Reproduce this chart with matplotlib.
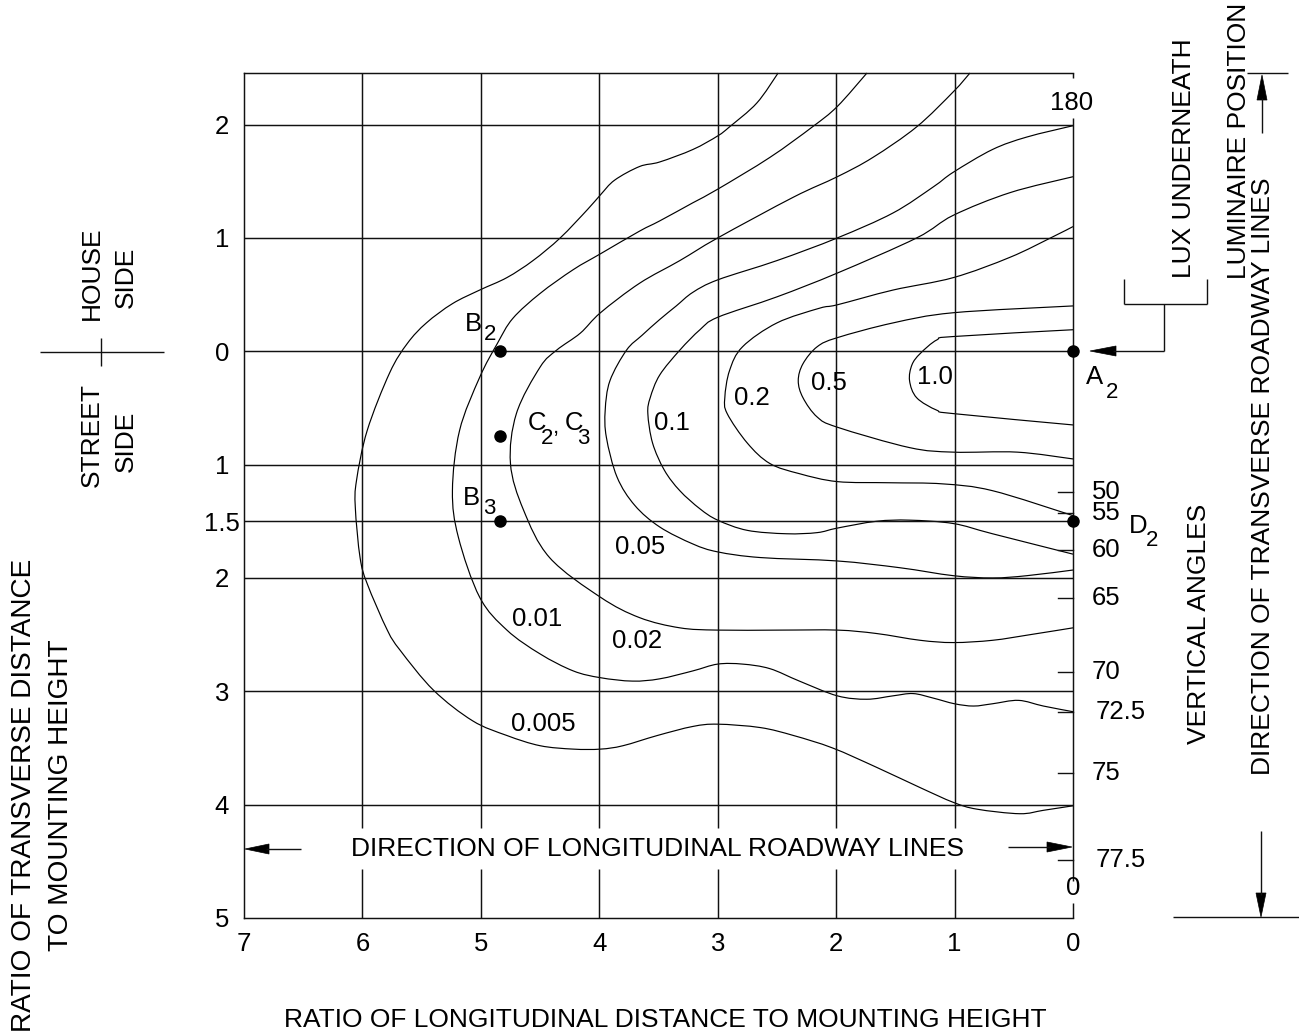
import matplotlib
matplotlib.use("Agg")
import matplotlib.pyplot as plt
from matplotlib import font_manager
from matplotlib.patches import Polygon, PathPatch
from matplotlib.path import Path

# ---------------------------------------------------------------------------
# Isolux diagram data
# x: ratio of longitudinal distance to mounting height
# y: ratio of transverse distance to mounting height (house side < 0, street side > 0)
# ---------------------------------------------------------------------------
long_ticks = [7, 6, 5, 4, 3, 2, 1, 0]
long_labels = ["7", "6", "5", "4", "3", "2", "1", "0"]
trans_ticks = [-2, -1, 0, 1, 1.5, 2, 3, 4, 5]
trans_labels = ["2", "1", "0", "1", "1.5", "2", "3", "4", "5"]
grid_long = [1, 2, 3, 4, 5, 6]
grid_trans = [-2, -1, 0, 1, 1.5, 2, 3, 4]

# vertical angle scale on the luminaire line
angle_labels = ["50", "55", "60", "65", "70", "72.5", "75", "77.5"]
angle_pos = [1.24, 1.43, 1.75, 2.18, 2.83, 3.18, 3.72, 4.49]

iso_levels = ["0.005", "0.01", "0.02", "0.05", "0.1", "0.2", "0.5", "1.0"]

lux_0005_x = [2.49, 2.67, 2.90, 3.00, 3.21, 3.49, 3.66, 3.87, 3.99, 4.10,
              4.33, 4.56, 4.78, 5.01, 5.24, 5.46, 5.62, 5.77, 5.96, 6.05,
              6.06, 6.02, 5.96, 5.79, 5.68, 5.40, 5.07, 4.78, 4.50, 4.22,
              3.99, 3.80, 3.51, 3.21, 3.00, 2.64, 2.36, 2.03, 1.66, 1.29,
              1.01, 0.81, 0.45, 0.25, 0.0]
lux_0005_y = [-2.455, -2.19, -1.98, -1.90, -1.78, -1.67, -1.63, -1.51, -1.38, -1.25,
              -1.00, -0.80, -0.65, -0.54, -0.42, -0.25, -0.07, 0.19, 0.70, 1.14,
              1.38, 1.82, 2.05, 2.46, 2.64, 2.99, 3.26, 3.39, 3.48, 3.51,
              3.51, 3.48, 3.39, 3.31, 3.29, 3.32, 3.39, 3.50, 3.67, 3.85,
              3.98, 4.04, 4.08, 4.05, 4.01]

lux_001_x = [1.74, 1.99, 2.20, 2.56, 3.00, 3.21, 3.49, 3.66, 3.99, 4.22,
             4.50, 4.73, 4.86, 5.01, 5.18, 5.24, 5.19, 5.01, 4.78, 4.50,
             4.22, 3.99, 3.72, 3.49, 3.21, 3.00, 2.79, 2.56, 2.31, 1.99,
             1.74, 1.52, 1.35, 1.18, 1.00, 0.84, 0.68, 0.46, 0.25, 0.0]
lux_001_y = [-2.455, -2.16, -1.98, -1.71, -1.43, -1.31, -1.15, -1.06, -0.86, -0.72,
             -0.51, -0.29, -0.07, 0.23, 0.70, 1.23, 1.64, 2.17, 2.46, 2.67,
             2.82, 2.88, 2.91, 2.89, 2.82, 2.76, 2.76, 2.80, 2.91, 3.04,
             3.07, 3.04, 3.02, 3.06, 3.11, 3.13, 3.11, 3.08, 3.13, 3.18]

lux_002_x = [0.87, 1.01, 1.32, 1.69, 1.99, 2.36, 3.00, 3.32, 3.66, 3.99,
             4.16, 4.36, 4.50, 4.70, 4.75, 4.64, 4.42, 3.99, 3.66, 3.32,
             3.00, 2.47, 1.99, 1.66, 1.29, 1.01, 0.68, 0.36, 0.0]
lux_002_y = [-2.455, -2.29, -1.98, -1.71, -1.54, -1.36, -1.00, -0.80, -0.60, -0.34,
             -0.16, -0.01, 0.14, 0.55, 0.99, 1.40, 1.82, 2.17, 2.35, 2.44,
             2.46, 2.46, 2.46, 2.49, 2.55, 2.57, 2.55, 2.50, 2.44]

lux_005_x = [0.0, 0.39, 0.68, 1.01, 1.18, 1.52, 1.99, 2.50, 3.00, 3.21,
             3.35, 3.49, 3.64, 3.77, 3.91, 3.95, 3.94, 3.85, 3.70, 3.49,
             3.21, 3.00, 2.64, 1.99, 1.46, 1.01, 0.68, 0.39, 0.0]
lux_005_y = [-1.99, -1.89, -1.78, -1.58, -1.45, -1.22, -1.00, -0.80, -0.63, -0.52,
             -0.40, -0.28, -0.14, -0.01, 0.26, 0.52, 0.76, 1.11, 1.36, 1.55,
             1.70, 1.77, 1.82, 1.85, 1.91, 1.98, 2.00, 1.98, 1.93]

lux_01_x = [0.0, 0.53, 1.01, 1.32, 1.99, 2.50, 3.00, 3.15, 3.32, 3.49,
            3.57, 3.59, 3.55, 3.45, 3.32, 3.15, 3.00, 2.75, 2.42, 2.16,
            1.99, 1.66, 1.38, 1.01, 0.68, 0.0]
lux_01_y = [-1.54, -1.40, -1.20, -1.00, -0.69, -0.48, -0.30, -0.19, -0.01, 0.21,
            0.41, 0.55, 0.81, 1.05, 1.23, 1.39, 1.49, 1.58, 1.61, 1.60,
            1.56, 1.50, 1.49, 1.52, 1.61, 1.79]

lux_02_x = [0.0, 0.17, 0.53, 1.01, 1.52, 1.99, 2.14, 2.50, 2.79, 2.90,
            2.94, 2.92, 2.75, 2.56, 2.31, 1.99, 1.55, 1.10, 0.68, 0.0]
lux_02_y = [-1.10, -1.01, -0.83, -0.65, -0.54, -0.41, -0.38, -0.25, -0.04, 0.17,
            0.41, 0.55, 0.81, 0.99, 1.08, 1.15, 1.16, 1.17, 1.23, 1.45]

lux_05_x = [0.0, 1.01, 1.52, 1.99, 2.16, 2.28, 2.32, 2.28, 2.16, 1.99,
            1.38, 1.01, 0.47, 0.0]
lux_05_y = [-0.40, -0.34, -0.25, -0.12, -0.04, 0.11, 0.26, 0.41, 0.58, 0.67,
            0.85, 0.89, 0.89, 0.95]

lux_10_x = [0.0, 1.01, 1.15, 1.29, 1.36, 1.38, 1.32, 1.15, 1.01, 0.0]
lux_10_y = [-0.19, -0.13, -0.10, 0.02, 0.12, 0.26, 0.41, 0.52, 0.55, 0.65]

# reference points
point_names = ["B2", "C2C3", "B3", "A2", "D2"]
point_x = [4.84, 4.84, 4.84, 0.0, 0.0]
point_y = [0.0, 0.75, 1.5, 0.0, 1.5]

# ---------------------------------------------------------------------------
plt.rcParams["font.family"] = "Liberation Sans"
_names = {f.name for f in font_manager.fontManager.ttflist}
HAS_NARROW = "Liberation Sans Narrow" in _names
NARROW = "Liberation Sans Narrow" if HAS_NARROW else "Liberation Sans"

W, H = 1299, 1035
fig = plt.figure(figsize=(W / 100, H / 100), dpi=100)
fig.patch.set_facecolor("white")

L, R, T, B = 244, 1073, 73, 918
ax = fig.add_axes([L / W, 1 - B / H, (R - L) / W, (B - T) / H])
ax.set_xlim(7, 0)
ax.set_ylim(5.0, -2.455)
ax.set_facecolor("none")

INK = "#111111"
GRID_LW = 1.05
CURVE_LW = 0.85
FS = 19

for side in ("top", "left", "bottom"):
    ax.spines[side].set_linewidth(GRID_LW)
    ax.spines[side].set_color(INK)
ax.spines["right"].set_visible(False)

# right border (luminaire line) with openings for the 180 / 0 labels
for y0, y1 in [(-2.455, -2.41), (-2.057, 4.67), (4.87, 5.0)]:
    ax.plot([0, 0], [y0, y1], color=INK, lw=GRID_LW, clip_on=False,
            solid_capstyle="butt")

# grid: vertical lines interrupted by the roadway-direction caption
for gx in grid_long:
    ax.plot([gx, gx], [-2.455, 4.21], color=INK, lw=GRID_LW, solid_capstyle="butt")
    ax.plot([gx, gx], [4.565, 5.0], color=INK, lw=GRID_LW, solid_capstyle="butt")
for gy in grid_trans:
    ax.plot([7, 0], [gy, gy], color=INK, lw=GRID_LW, solid_capstyle="butt")


def smooth_curve(xs, ys, k=1.0 / 6.0):
    """Cubic Bezier path passing through every listed vertex (Catmull-Rom tangents)."""
    pts = list(zip(xs, ys))
    n = len(pts)
    verts = [pts[0]]
    codes = [Path.MOVETO]
    for i in range(n - 1):
        p0 = pts[i - 1] if i > 0 else pts[i]
        p1 = pts[i]
        p2 = pts[i + 1]
        p3 = pts[i + 2] if i + 2 < n else pts[i + 1]
        c1 = (p1[0] + (p2[0] - p0[0]) * k, p1[1] + (p2[1] - p0[1]) * k)
        c2 = (p2[0] - (p3[0] - p1[0]) * k, p2[1] - (p3[1] - p1[1]) * k)
        verts += [c1, c2, p2]
        codes += [Path.CURVE4] * 3
    return Path(verts, codes)


# isolux curves
curves = [
    (lux_0005_x, lux_0005_y), (lux_001_x, lux_001_y), (lux_002_x, lux_002_y),
    (lux_005_x, lux_005_y), (lux_01_x, lux_01_y), (lux_02_x, lux_02_y),
    (lux_05_x, lux_05_y), (lux_10_x, lux_10_y),
]
for cx, cy in curves:
    ax.add_patch(PathPatch(smooth_curve(cx, cy), facecolor="none",
                           edgecolor="black", lw=CURVE_LW, clip_on=False,
                           joinstyle="round"))

# curve labels
label_spots = [(4.475, 3.29), (4.526, 2.36), (3.68, 2.56), (3.656, 1.73),
               (3.39, 0.63), (2.71, 0.41), (2.06, 0.28), (1.17, 0.23)]
for lvl, (lx, ly) in zip(iso_levels, label_spots):
    ax.text(lx, ly, lvl, ha="center", va="center", fontsize=18.5, color="black")

# reference points
ax.plot(point_x, point_y, "o", color="black", ms=8, clip_on=False, zorder=5)

# axis ticks
ax.set_xticks(long_ticks)
ax.set_xticklabels(long_labels, fontsize=19 if HAS_NARROW else 18.5, family=NARROW)
ax.set_yticks(trans_ticks)
ax.set_yticklabels(trans_labels, fontsize=18.5)
for lab in ax.get_yticklabels():
    lab.set_horizontalalignment("center")
ax.tick_params(axis="x", length=0, pad=10)
ax.tick_params(axis="y", length=0, pad=15.8)

# vertical angle ticks and labels
for pos, lab in zip(angle_pos, angle_labels):
    ax.plot([0.127, 0], [pos, pos], color=INK, lw=1.0, clip_on=False)
    ax.text(-0.16 if "." not in lab else -0.19, pos, lab, ha="left", va="center",
            fontsize=18.5, clip_on=False)

# ---------------------------------------------------------------------------
# overlay in pixel units for the surrounding annotations
ov = fig.add_axes([0, 0, 1, 1])
ov.set_xlim(0, W)
ov.set_ylim(H, 0)
ov.axis("off")
ov.patch.set_visible(False)


def seg(x0, y0, x1, y1, lw=1.0):
    ov.plot([x0, x1], [y0, y1], color=INK, lw=lw, solid_capstyle="butt")


def head(tip, base1, base2):
    ov.add_patch(Polygon([tip, base1, base2], closed=True, facecolor="black",
                         edgecolor="black", lw=0.5))


# ends of the luminaire line
ov.text(1072, 103, "180", ha="center", va="center", fontsize=18.5)
ov.text(1073, 888, "0", ha="center", va="center", fontsize=18.5)

# longitudinal direction caption and arrows
ov.text(658, 849, "DIRECTION OF LONGITUDINAL ROADWAY LINES", ha="center",
        va="center", fontsize=FS)
seg(301, 849, 266, 849)
head((245, 849), (269, 844), (269, 854))
seg(1008, 847, 1050, 847)
head((1072, 847), (1047, 842), (1047, 852))

# point labels
txt = dict(ha="center", va="center", fontsize=18.5)
sub = dict(ha="center", va="center", fontsize=16)
ov.text(473, 324, "B", **txt)
ov.text(490, 335, "2", **sub)
ov.text(471, 498, "B", **txt)
ov.text(489, 509, "3", **sub)
ov.text(537, 423, "C", **txt)
ov.text(547, 438, "2", **sub)
ov.text(556, 427, ",", **sub)
ov.text(574, 423, "C", **txt)
ov.text(583, 438, "3", **sub)
ov.text(1095, 377, "A", **txt)
ov.text(1112, 393, "2", **sub)
ov.text(1138, 526, "D", **txt)
ov.text(1152, 540, "2", **sub)

# house / street side labels on the left
rot = dict(rotation=90, ha="center", va="center")
ov.text(92, 273, "HOUSE", fontsize=FS, **rot)
ov.text(126, 277, "SIDE", fontsize=FS, **rot)
ov.text(92, 435, "STREET", fontsize=FS, **rot)
ov.text(126, 441, "SIDE", fontsize=FS, **rot)
seg(40, 352, 164, 352)
seg(101, 338, 101, 366)

ov.text(24, 795, "RATIO OF TRANSVERSE DISTANCE", fontsize=20.2, **rot)
ov.text(61, 795, "TO MOUNTING HEIGHT", fontsize=20.2, **rot)

ov.text(665, 1020, "RATIO OF LONGITUDINAL DISTANCE TO MOUNTING HEIGHT",
        ha="center", va="center", fontsize=20 if HAS_NARROW else 19, family=NARROW)

# right-hand annotations
ov.text(1184, 158, "LUX UNDERNEATH", fontsize=FS, **rot)
ov.text(1239, 141, "LUMINAIRE POSITION", fontsize=FS, **rot)
ov.text(1263, 476, "DIRECTION OF TRANSVERSE ROADWAY LINES", fontsize=FS, **rot)
ov.text(1199, 624, "VERTICAL ANGLES", fontsize=FS, **rot)

# bracket and pointer to A2
seg(1124, 279, 1124, 304)
seg(1124, 304, 1207, 304)
seg(1207, 304, 1207, 279)
seg(1164, 304, 1164, 351)
seg(1164, 351, 1113, 351)
head((1090, 351), (1116, 346), (1116, 356))

# transverse direction arrows
seg(1247, 73, 1288, 73)
seg(1262, 133, 1262, 98)
head((1262, 75), (1257, 100), (1267, 100))
seg(1261, 831, 1261, 895)
head((1261, 917), (1256, 893), (1266, 893))
seg(1173, 917, 1299, 917)

fig.savefig("out.png", dpi=100, facecolor="white")
